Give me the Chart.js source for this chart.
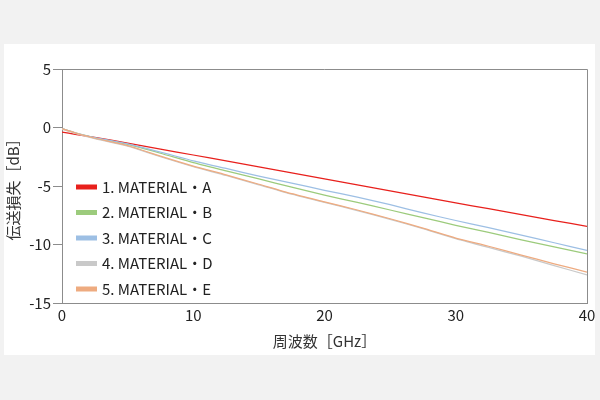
<!DOCTYPE html>
<html>
<head>
<meta charset="utf-8">
<script src="https://cdn.jsdelivr.net/npm/chart.js@4"></script>
<style>
  html, body { margin: 0; padding: 0; background: #f2f2f2; }
  #wrap { width: 600px; height: 400px; }
</style>
</head>
<body>
<div id="wrap"><canvas id="chart" width="600" height="400"></canvas></div>
<script>
// frequency [GHz]
const freq = [0, 1, 2.5, 5, 7.5, 10, 12.5, 15, 17.5, 20, 22.5, 25, 27.5, 30, 32.5, 35, 37.5, 40];

// transmission loss [dB]
const matA = [-0.4, -0.58, -0.85, -1.33, -1.85, -2.35, -2.86, -3.37, -3.88, -4.4, -4.9, -5.42, -5.93, -6.44, -6.94, -7.44, -7.95, -8.45];
const matB = [-0.1, -0.45, -0.88, -1.45, -2.2, -3.0, -3.7, -4.4, -5.1, -5.78, -6.4, -7.05, -7.7, -8.36, -8.97, -9.6, -10.2, -10.8];
const matC = [-0.1, -0.45, -0.86, -1.4, -2.1, -2.85, -3.5, -4.15, -4.75, -5.37, -5.95, -6.6, -7.3, -7.95, -8.55, -9.2, -9.85, -10.5];
const matD = [-0.15, -0.5, -0.95, -1.6, -2.5, -3.35, -4.1, -4.9, -5.7, -6.4, -7.1, -7.85, -8.65, -9.5, -10.25, -11.0, -11.8, -12.6];
const matE = [-0.1, -0.46, -0.92, -1.55, -2.45, -3.3, -4.05, -4.85, -5.65, -6.35, -7.05, -7.8, -8.6, -9.45, -10.15, -10.9, -11.65, -12.36];

const names = ['1. MATERIAL・A', '2. MATERIAL・B', '3. MATERIAL・C', '4. MATERIAL・D', '5. MATERIAL・E'];
const colors = ['#e8201c', '#9ccb7c', '#9dbfe4', '#c9c9c9', '#eeab80'];
const series = [matA, matB, matC, matD, matE];

const FONT = '"Noto Sans CJK JP", "Open Sans", sans-serif';
const AXIS = '#8c8c8c';

// white panel, top/right frame and legend
const panel = {
  id: 'panel',
  beforeDraw(chart) {
    const c = chart.ctx;
    c.save();
    c.fillStyle = '#ffffff';
    c.fillRect(4, 44, 591, 311);
    c.restore();
  },
  afterDraw(chart) {
    const c = chart.ctx, a = chart.chartArea;
    c.save();
    c.strokeStyle = AXIS;
    c.lineWidth = 1;
    c.beginPath();
    c.moveTo(a.left, a.top + 0.5);
    c.lineTo(a.right + 0.5, a.top + 0.5);
    c.lineTo(a.right + 0.5, a.bottom);
    c.stroke();

    c.font = '15px ' + FONT;
    c.textBaseline = 'middle';
    names.forEach((n, i) => {
      const y = 187 + i * 25.5;
      c.fillStyle = colors[i];
      c.fillRect(76, y - 2.5, 21, 5);
      c.fillStyle = '#222';
      c.fillText(n, 102, y);
    });
    c.restore();
  }
};

new Chart(document.getElementById('chart'), {
  type: 'line',
  data: {
    datasets: series.map((s, i) => ({
      label: names[i],
      data: freq.map((f, j) => ({ x: f, y: s[j] })),
      borderColor: colors[i],
      borderWidth: 1.25,
      pointRadius: 0,
      tension: 0.2,
      order: 5 - i
    }))
  },
  options: {
    responsive: false,
    animation: false,
    layout: { padding: { left: 0, right: 13, top: 69, bottom: 45 } },
    plugins: { legend: { display: false }, tooltip: { enabled: false } },
    scales: {
      x: {
        type: 'linear', min: 0, max: 40,
        afterFit(s) { s.height = 52; },
        ticks: { stepSize: 10, padding: 3, color: '#222', font: { family: FONT, size: 15 }, maxRotation: 0 },
        grid: { display: true, drawOnChartArea: false, drawTicks: false },
        border: { color: AXIS, width: 1 },
        title: { display: true, text: '周波数［GHz］', color: '#333', font: { family: FONT, size: 15 }, padding: { top: 4, bottom: 5 } }
      },
      y: {
        min: -15, max: 5,
        afterFit(s) { s.width = 62; },
        ticks: { stepSize: 5, padding: 2, color: '#222', font: { family: FONT, size: 15 } },
        grid: { drawOnChartArea: false, drawTicks: true, tickLength: 9, color: AXIS },
        border: { color: AXIS, width: 1 },
        title: { display: true, text: '伝送損失［dB］', color: '#333', font: { family: FONT, size: 15 }, padding: { top: 4, bottom: 0 } }
      }
    }
  },
  plugins: [panel]
});
</script>
</body>
</html>
